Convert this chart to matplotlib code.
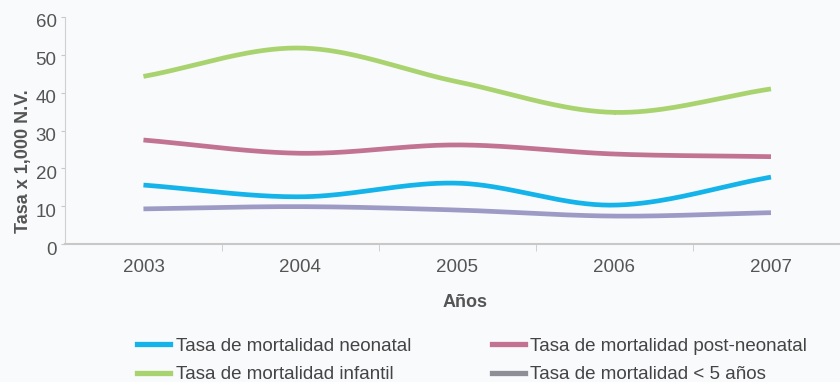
import numpy as np
import matplotlib
matplotlib.use("Agg")
import matplotlib.pyplot as plt
import matplotlib.transforms as mtransforms
from matplotlib.lines import Line2D

plt.rcParams['font.family'] = ['Liberation Sans', 'DejaVu Sans']

years = ["2003", "2004", "2005", "2006", "2007"]
neonatal = [15.6, 12.5, 16.1, 10.3, 17.7]
post_neonatal = [27.5, 24.0, 26.2, 23.8, 23.1]
infantil = [44.3, 51.8, 42.9, 34.8, 41.0]
menor5 = [9.3, 9.9, 9.0, 7.4, 8.3]

labels = ["Tasa de mortalidad neonatal", "Tasa de mortalidad infantil",
          "Tasa de mortalidad post-neonatal", "Tasa de mortalidad < 5 años"]
colors = ["#14b4ea", "#a9d36e", "#c27391", "#9d9bc6"]
legend_colors = ["#14b4ea", "#a9d36e", "#c27391", "#8d8e96"]
series = [neonatal, infantil, post_neonatal, menor5]


def smooth(x, y, n=40):
    # Catmull-Rom spline through the points
    x = np.asarray(x, float)
    y = np.asarray(y, float)
    px = np.concatenate([[2 * x[0] - x[1]], x, [2 * x[-1] - x[-2]]])
    py = np.concatenate([[2 * y[0] - y[1]], y, [2 * y[-1] - y[-2]]])
    xs, ys = [], []
    t = np.linspace(0, 1, n)
    for i in range(1, len(px) - 2):
        for p, out in ((px, xs), (py, ys)):
            p0, p1, p2, p3 = p[i - 1], p[i], p[i + 1], p[i + 2]
            out.append(0.5 * ((2 * p1) + (-p0 + p2) * t
                              + (2 * p0 - 5 * p1 + 4 * p2 - p3) * t ** 2
                              + (-p0 + 3 * p1 - 3 * p2 + p3) * t ** 3))
    return np.concatenate(xs), np.concatenate(ys)


fig = plt.figure(figsize=(8.4, 3.82), dpi=100)
fig.patch.set_facecolor("#f9fafc")
ax = fig.add_axes([0.0774, 0.361, 0.9226, 0.5945])
ax.set_facecolor("#f9fafc")

x = np.arange(len(years))
for vals, c in zip(series, colors):
    sx, sy = smooth(x, vals)
    ax.plot(sx, sy, color=c, lw=3.4, solid_capstyle="butt")

ax.set_xlim(-0.5, 4.44)
ax.set_ylim(0, 60)
ax.set_yticks(range(0, 61, 10))
ax.set_xticks(x)
ax.set_xticklabels(years)
ax.set_xticks(x[:-1] + 0.5, minor=True)
ax.tick_params(axis="x", which="major", length=0, pad=11, labelsize=13.5, colors="#555555")
ax.tick_params(axis="x", which="minor", length=5, color="#c8c8c8", direction="out")
ax.tick_params(axis="y", length=3, color="#c8c8c8", labelsize=13.5, labelcolor="#555555", pad=3)

# y labels sit a little below their ticks
shift = mtransforms.ScaledTranslation(0, -4 / 100, fig.dpi_scale_trans)
for lbl in ax.get_yticklabels():
    lbl.set_transform(lbl.get_transform() + shift)

for s in ["top", "right"]:
    ax.spines[s].set_visible(False)
ax.spines["left"].set_color("#d0d0d0")
ax.spines["bottom"].set_color("#c8c8c8")
ax.spines["bottom"].set_linewidth(1.5)

ax.set_ylabel("Tasa x 1,000 N.V.", fontsize=13, fontweight="bold", color="#555555")
ax.yaxis.set_label_coords(-0.043, 0.366)
ax.set_xlabel("Años", fontsize=13, fontweight="bold", color="#555555")
ax.xaxis.set_label_coords(0.516, -0.22)

handles = [Line2D([], [], color=c, lw=3.8) for c in legend_colors]
fig.legend(handles, labels, ncol=2, loc="upper left", bbox_to_anchor=(0.163, 0.116),
           frameon=False, fontsize=13.5, handlelength=1.76, handletextpad=0.3,
           labelspacing=0.6, columnspacing=4.3, borderpad=0, borderaxespad=0,
           labelcolor="#444444")

fig.savefig("out.png", dpi=100, facecolor=fig.get_facecolor())
